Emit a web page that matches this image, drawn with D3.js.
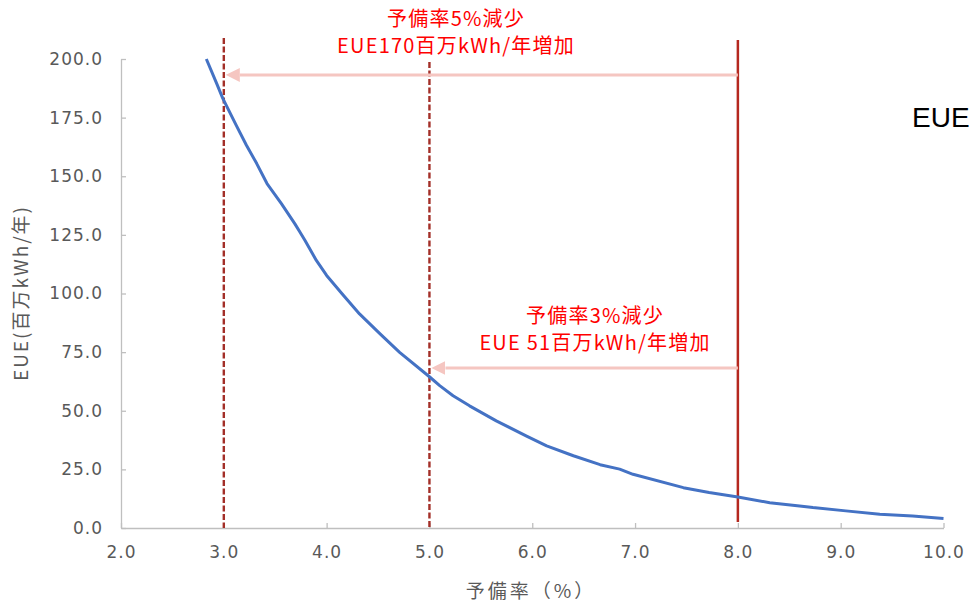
<!DOCTYPE html>
<html><head><meta charset="utf-8">
<script src="https://cdn.jsdelivr.net/npm/d3@7"></script>
<style>
body{margin:0;background:#fff;}
svg{display:block;}
</style></head>
<body>
<svg id="chart" width="969" height="605"></svg>
<script>
// ---- data ----
const reserveRate = [2.83,2.93,2.99,3.12,3.22,3.32,3.42,3.56,3.69,3.74,3.79,3.90,4.00,4.15,4.32,4.52,4.71,5.00,5.10,5.23,5.39,5.65,5.94,6.14,6.40,6.66,6.85,6.98,7.47,7.72,8.00,8.31,8.60,8.73,9.05,9.38,9.70,10.0];
const eue = [200.0,189.6,183.2,171.8,163.2,155.4,146.9,138.3,129.8,126.2,122.6,114.1,107.7,99.9,91.3,82.8,74.9,64.5,60.7,56.4,52.1,45.7,39.3,35.0,30.8,27.0,25.1,22.9,17.2,15.1,13.2,10.8,9.4,8.7,7.3,5.9,5.1,4.1];
const xTicks = [2,3,4,5,6,7,8,9,10];
const yTicks = [0,25,50,75,100,125,150,175,200];
const refLines = [3.0, 5.0, 8.0];           // vertical markers
const arrowFrom = [8.0, 8.0];
const arrowTo = [3.0, 5.0];
const arrowLevel = [193.2, 68.2];           // EUE level of the arrows
const noteLine1 = ["予備率5%減少", "予備率3%減少"];
const noteLine2 = ["EUE170百万kWh/年増加", "EUE 51百万kWh/年増加"];
const xTitle = "予備率（%）";
const yTitle = "EUE(百万kWh/年)";

// ---- layout ----
const svg = d3.select("#chart");
const x = d3.scaleLinear().domain([2,10]).range([121,943.5]);
const y = d3.scaleLinear().domain([0,200]).range([528,59]);
const axisColor = "#bfbfbf", labelColor = "#595959";
const tickFont = "'DejaVu Sans', Verdana, sans-serif";
const jpFont = "'Noto Sans CJK JP', sans-serif";

svg.append("rect").attr("width",969).attr("height",605).attr("fill","#fff");

// x axis
const gx = svg.append("g").attr("transform",`translate(0,${y(0)})`)
  .call(d3.axisBottom(x).tickValues(xTicks).tickFormat(d3.format(".1f")).tickSizeInner(-5).tickSizeOuter(0).tickPadding(18));
gx.select(".domain").attr("stroke",axisColor).attr("stroke-width",1.3);
gx.selectAll(".tick line").attr("stroke",axisColor).attr("stroke-width",1.3);
gx.selectAll(".tick text").attr("fill",labelColor).attr("font-family",tickFont).attr("font-size",17).attr("letter-spacing","1px");

// y axis
const gy = svg.append("g").attr("transform",`translate(${x(2)},0)`)
  .call(d3.axisLeft(y).tickValues(yTicks).tickFormat(d3.format(".1f")).tickSizeInner(-5).tickSizeOuter(0).tickPadding(18));
gy.select(".domain").attr("stroke",axisColor).attr("stroke-width",1.3);
gy.selectAll(".tick line").attr("stroke",axisColor).attr("stroke-width",1.3);
gy.selectAll(".tick text").attr("fill",labelColor).attr("font-family",tickFont).attr("font-size",17).attr("letter-spacing","1px");

// axis titles
svg.append("text").attr("x",531).attr("y",593).attr("text-anchor","middle").attr("dominant-baseline","middle")
  .attr("fill",labelColor).attr("font-family",jpFont).attr("font-size",19).attr("letter-spacing","3px").text(xTitle);
svg.append("text").attr("transform","translate(23,293) rotate(-90)").attr("text-anchor","middle").attr("dominant-baseline","middle")
  .attr("fill",labelColor).attr("font-family",jpFont).attr("font-size",19).attr("letter-spacing","2px").text(yTitle);

// reference lines
const lineTops = [38, 62, 40];
const lineBottoms = [y(0), y(0), 522];
refLines.forEach((v,i)=>{
  const ln = svg.append("line").attr("x1",x(v)).attr("x2",x(v)).attr("y1",lineTops[i]).attr("y2",lineBottoms[i])
    .attr("stroke", i<2 ? "#a32f28" : "#b5281f").attr("stroke-width", i<2 ? 2.4 : 2.5);
  if(i<2) ln.attr("stroke-dasharray","6,2.5");
});

// arrows
const defs = svg.append("defs");
defs.append("marker").attr("id","ah").attr("viewBox","0 0 10 10").attr("refX",0).attr("refY",5)
  .attr("markerWidth",14).attr("markerHeight",15).attr("markerUnits","userSpaceOnUse").attr("orient","auto")
  .append("path").attr("d","M0,0 L10,5 L0,10 Z").attr("fill","#f5c6c1");
arrowFrom.forEach((v,i)=>{
  svg.append("line").attr("x1",x(v)).attr("x2",x(arrowTo[i])+16).attr("y1",y(arrowLevel[i])).attr("y2",y(arrowLevel[i]))
    .attr("stroke","#f5c6c1").attr("stroke-width",3).attr("marker-end","url(#ah)");
});

// curve
svg.append("path").datum(reserveRate.map((r,i)=>[r,eue[i]]))
  .attr("fill","none").attr("stroke","#4472c4").attr("stroke-width",3).attr("stroke-linejoin","round")
  .attr("d", d3.line().x(d=>x(d[0])).y(d=>y(d[1])));

// notes
const notePos = [[456,21,48],[595,318,345]];
notePos.forEach((p,i)=>{
  svg.append("text").attr("x",p[0]).attr("y",p[1]).attr("text-anchor","middle").attr("dominant-baseline","middle")
    .attr("fill","#ff0000").attr("font-family",jpFont).attr("font-size",20).attr("letter-spacing","1.2px").text(noteLine1[i]);
  svg.append("text").attr("x",p[0]).attr("y",p[2]).attr("text-anchor","middle").attr("dominant-baseline","middle")
    .attr("fill","#ff0000").attr("font-family",jpFont).attr("font-size",20).attr("letter-spacing","1.2px").text(noteLine2[i]);
});

// clipped legend text
svg.append("text").attr("x",912).attr("y",127).attr("fill","#000").attr("font-family","'Liberation Sans', Arial, sans-serif")
  .attr("font-size",28).text("EUE");
</script>
</body></html>
